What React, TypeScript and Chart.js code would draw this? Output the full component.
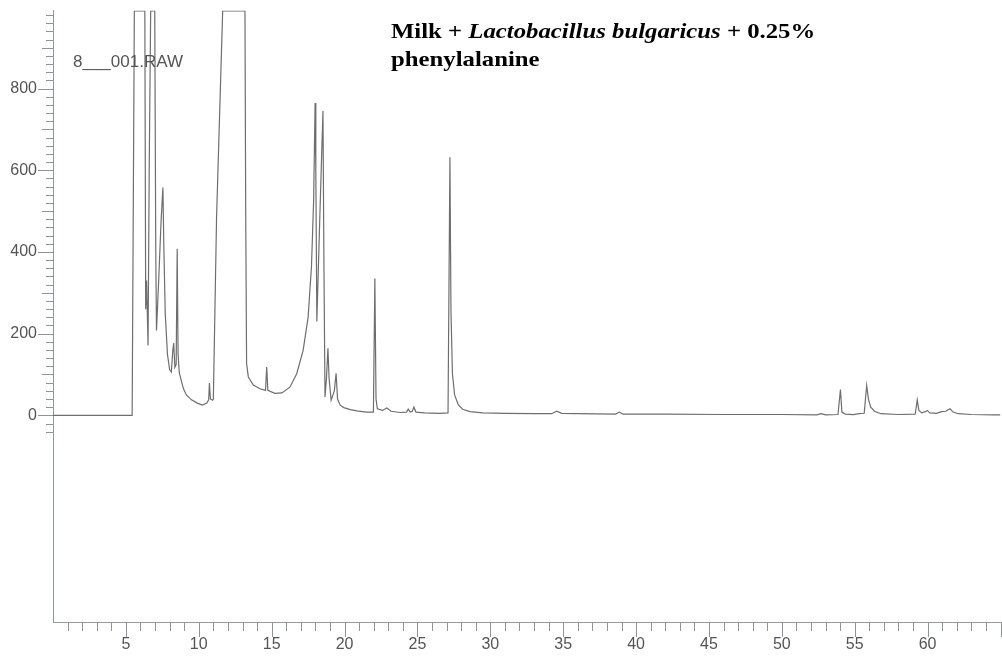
import React, { useEffect, useRef } from 'react';
import { Chart, registerables } from 'chart.js';

Chart.register(...registerables);

// Retention time (min) and detector signal
const retentionTime = [
  0, 3, 5.25, 5.43, 5.58, 6.3, 6.36, 6.42, 6.52, 6.6, 6.7, 6.98, 7.05, 7.1, 7.25, 7.42, 7.54, 7.6, 7.7, 7.85,
  8.0, 8.12, 8.22, 8.28, 8.36, 8.45, 8.52, 8.58, 8.66, 8.8, 8.95, 9.15, 9.5, 9.9, 10.25, 10.55, 10.68, 10.73, 10.8, 10.95,
  11.0, 11.22, 11.64, 13.17, 13.22, 13.28, 13.4, 13.74, 14.2, 14.58, 14.66, 14.74, 15.22, 15.7, 16.25, 16.72, 17.16, 17.5, 17.73, 17.88,
  17.98, 18.03, 18.1, 18.3, 18.52, 18.58, 18.66, 18.76, 18.86, 18.94, 19.08, 19.3, 19.42, 19.52, 19.7, 19.95, 20.4, 20.85, 21.5, 21.98,
  22.08, 22.16, 22.25, 22.6, 22.9, 23.2, 23.8, 24.25, 24.37, 24.5, 24.65, 24.76, 24.9, 25.5, 26.5, 27.1, 27.23, 27.3, 27.4, 27.55,
  27.8, 28.1, 28.6, 29.5, 31.0, 33.0, 34.2, 34.55, 34.9, 36.0, 38.6, 38.85, 39.1, 42.0, 46.0, 50.0, 52.4, 52.7, 53.0, 53.85,
  54.02, 54.12, 54.35, 54.9, 55.3, 55.65, 55.82, 55.95, 56.1, 56.35, 56.8, 58.0, 59.15, 59.29, 59.4, 59.6, 59.85, 59.98, 60.15, 60.6,
  60.96, 61.25, 61.53, 61.75, 62.1, 63.0, 64.5, 65.0,
];
const signal = [
  0, 0, 0, 0, 990, 990, 260, 330, 171, 600, 990, 990, 400, 208, 330, 480, 558, 420, 250, 150,
  112, 106, 160, 177, 118, 125, 408, 150, 105, 85, 65, 50, 38, 30, 25, 30, 38, 79, 40, 37,
  40, 484, 990, 990, 500, 127, 94, 74, 65, 61, 118, 61, 54, 55, 69, 102, 159, 240, 363, 526,
  765, 600, 230, 480, 745, 400, 45, 90, 164, 90, 37, 60, 103, 40, 25, 19, 14, 11, 8, 8,
  335, 40, 16, 12, 18, 10, 7, 8, 15, 8, 10, 20, 8, 6, 5, 6, 632, 260, 103, 50,
  26, 15, 9, 6, 5, 4, 4, 10, 5, 4, 3, 8, 3, 3, 2, 2, 1, 4, 1, 2,
  63, 8, 3, 2, 4, 5, 73, 38, 20, 10, 4, 2, 3, 38, 12, 6, 9, 12, 6, 5,
  9, 10, 16, 8, 4, 2, 1, 1,
];

const xTickValues = [5, 10, 15, 20, 25, 30, 35, 40, 45, 50, 55, 60];
const xTickLabels = ['5', '10', '15', '20', '25', '30', '35', '40', '45', '50', '55', '60'];
const yTickValues = [0, 200, 400, 600, 800];
const yTickLabels = ['0', '200', '400', '600', '800'];

const xMinorTicks = [
  1, 2, 3, 4, 5, 6, 7, 8, 9, 10, 11, 12, 13, 14, 15, 16, 17, 18, 19, 20, 21, 22, 23, 24, 25, 26, 27, 28, 29, 30, 31, 32,
  33, 34, 35, 36, 37, 38, 39, 40, 41, 42, 43, 44, 45, 46, 47, 48, 49, 50, 51, 52, 53, 54, 55, 56, 57, 58, 59, 60, 61, 62, 63, 64, 65,
];
const yMinorTicks = [
  -40, -20, 0, 20, 40, 60, 80, 100, 120, 140, 160, 180, 200, 220, 240, 260, 280, 300, 320, 340, 360, 380, 400, 420, 440,
  460, 480, 500, 520, 540, 560, 580, 600, 620, 640, 660, 680, 700, 720, 740, 760, 780, 800, 820, 840, 860, 880, 900, 920,
  940, 960, 980,
];

const tickPlugin = {
  id: 'chromTicks',
  afterDraw(chart: any) {
    const { ctx, chartArea } = chart;
    const xs = chart.scales.x;
    const ys = chart.scales.y;
    ctx.save();
    ctx.strokeStyle = '#8e949b';
    ctx.lineWidth = 1;
    ctx.beginPath();
    for (const v of xMinorTicks) {
      const px = Math.round(xs.getPixelForValue(v)) + 0.5;
      const len = v % 5 === 0 ? 15 : 9;
      ctx.moveTo(px, chartArea.bottom);
      ctx.lineTo(px, chartArea.bottom + len);
    }
    for (const v of yMinorTicks) {
      const py = Math.round(ys.getPixelForValue(v)) + 0.5;
      const len = v % 200 === 0 ? 15 : v % 100 === 0 ? 11 : 7;
      ctx.moveTo(chartArea.left - len, py);
      ctx.lineTo(chartArea.left, py);
    }
    ctx.stroke();
    ctx.restore();
  },
};

export default function App() {
  const canvasRef = useRef<HTMLCanvasElement | null>(null);

  useEffect(() => {
    if (!canvasRef.current) return;
    const points = retentionTime.map((t, i) => ({ x: t, y: signal[i] }));
    const chart = new Chart(canvasRef.current, {
      type: 'line',
      data: {
        datasets: [
          {
            data: points,
            borderColor: '#6e6e6e',
            borderWidth: 1.2,
            pointRadius: 0,
            tension: 0,
            fill: false,
          },
        ],
      },
      options: {
        responsive: false,
        animation: false,
        events: [],
        layout: { padding: { top: 10, right: 1.5, left: 0, bottom: 0 } },
        plugins: { legend: { display: false }, tooltip: { enabled: false }, title: { display: false } },
        scales: {
          x: {
            type: 'linear',
            position: 'bottom',
            min: 0,
            max: 65,
            afterFit: (s: any) => {
              s.height = 37;
            },
            afterBuildTicks: (s: any) => {
              s.ticks = xTickValues.map((v) => ({ value: v }));
            },
            grid: { display: true, drawOnChartArea: false, drawTicks: true, tickLength: 13, tickColor: 'rgba(0,0,0,0)' },
            border: { display: true, color: '#9a9a9a', width: 1 },
            ticks: {
              autoSkip: false,
              maxRotation: 0,
              padding: 0,
              color: '#555555',
              font: { family: 'Liberation Sans', size: 16 },
              callback: (_v: any, i: number) => xTickLabels[i],
            },
          },
          y: {
            type: 'linear',
            position: 'left',
            min: -506,
            max: 991,
            afterFit: (s: any) => {
              s.width = 53;
            },
            afterBuildTicks: (s: any) => {
              s.ticks = yTickValues.map((v) => ({ value: v }));
            },
            grid: { display: true, drawOnChartArea: false, drawTicks: true, tickLength: 15, tickColor: 'rgba(0,0,0,0)' },
            border: { display: true, color: '#8e969f', width: 1 },
            ticks: {
              autoSkip: false,
              padding: 1,
              color: '#555555',
              font: { family: 'Liberation Sans', size: 16 },
              callback: (_v: any, i: number) => yTickLabels[i],
            },
          },
        },
      },
      plugins: [tickPlugin],
    });
    return () => chart.destroy();
  }, []);

  return (
    <div style={{ position: 'fixed', left: 0, top: 0, width: 1002, height: 659, background: '#ffffff', overflow: 'hidden' }}>
      <canvas ref={canvasRef} width={1002} height={659} style={{ position: 'absolute', left: 0, top: 0, width: 1002, height: 659 }} />
      <div
        style={{
          position: 'absolute',
          left: 73,
          top: 51.8,
          fontFamily: 'Liberation Sans',
          fontSize: 17,
          lineHeight: '20px',
          color: '#555555',
          whiteSpace: 'nowrap',
        }}
      >
        8___001.RAW
      </div>
      <div
        style={{
          position: 'absolute',
          left: 390.7,
          top: 16.9,
          fontFamily: 'Liberation Serif',
          fontSize: 22,
          fontWeight: 'bold',
          lineHeight: '28.4px',
          color: '#000000',
          whiteSpace: 'nowrap',
          transform: 'scaleX(1.125)',
          transformOrigin: '0 0',
        }}
      >
        Milk + <i>Lactobacillus bulgaricus</i> + 0.25%
        <br />
        phenylalanine
      </div>
    </div>
  );
}
